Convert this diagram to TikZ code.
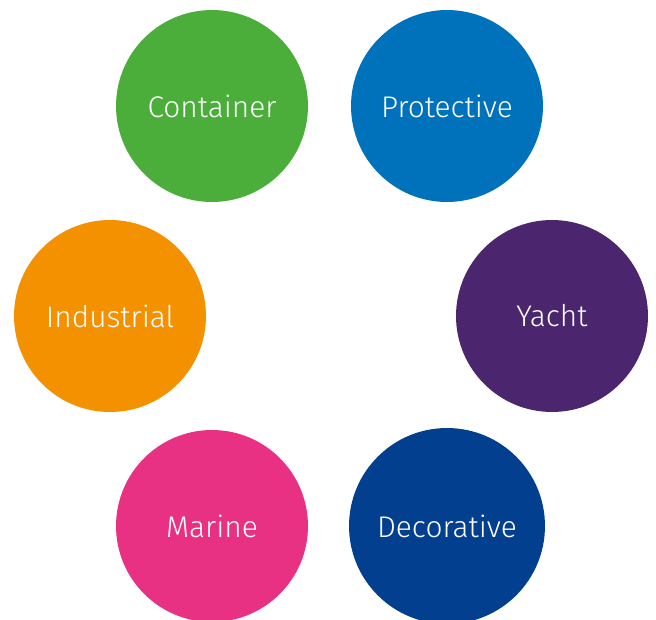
\documentclass[tikz,border=0pt]{standalone}
\usepackage{fontspec}
\setmainfont{Fira Sans Light}
\usepackage{xcolor}
\usetikzlibrary{positioning}

\definecolor{containergreen}{HTML}{4BAE3A}
\definecolor{protectiveblue}{HTML}{0072BB}
\definecolor{industrialorange}{HTML}{F39100}
\definecolor{yachtpurple}{HTML}{4B256D}
\definecolor{marinepink}{HTML}{E83183}
\definecolor{decorativeblue}{HTML}{02408F}

\begin{document}
\begin{tikzpicture}[x=0.02cm, y=-0.02cm]
    \tikzstyle{segment} = [circle, minimum size=3.84cm, inner sep=0pt, text=white, font=\fontsize{17}{19}\selectfont]

    \useasboundingbox (0,0) rectangle (656,619);

    \node [segment, fill=containergreen] (container) at (212,106) {Container};
    \node [segment, fill=protectiveblue] (protective) at (447,106) {Protective};
    \node [segment, fill=industrialorange] (industrial) at (110,316) {Industrial};
    \node [segment, fill=yachtpurple] (yacht) at (552,316) {Yacht};
    \node [segment, fill=marinepink] (marine) at (212,526) {Marine};
    \node [segment, fill=decorativeblue, minimum size=3.92cm] (decorative) at (447,526) {Decorative};
\end{tikzpicture}
\end{document}
